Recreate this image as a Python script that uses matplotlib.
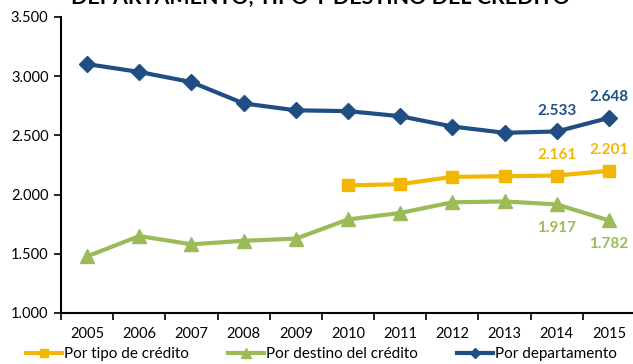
import numpy as np
import matplotlib.pyplot as plt

plt.rcParams["font.family"] = ["Lato", "DejaVu Sans"]

years = ["2005", "2006", "2007", "2008", "2009", "2010",
         "2011", "2012", "2013", "2014", "2015"]

# number of entities reporting, by grouping criterion
por_tipo = [np.nan, np.nan, np.nan, np.nan, np.nan, 2078, 2088, 2150, 2155, 2161, 2201]
por_destino = [1478, 1650, 1580, 1610, 1628, 1790, 1845, 1935, 1942, 1917, 1782]
por_depto = [3102, 3036, 2950, 2770, 2712, 2705, 2662, 2575, 2522, 2533, 2648]

c_tipo = "#F2B705"
c_destino = "#9BBB59"
c_depto = "#1F4E85"

fig = plt.figure(figsize=(6.33, 3.64), dpi=100)
ax = fig.add_axes([61 / 633, 51 / 364, 574 / 633, 296 / 364])

x = np.arange(len(years))
ax.plot(x, por_tipo, color=c_tipo, lw=3, marker="s", ms=9,
        label="Por tipo de crédito")
ax.plot(x, por_destino, color=c_destino, lw=3, marker="^", ms=10,
        label="Por destino del crédito")
ax.plot(x, por_depto, color=c_depto, lw=3, marker="D", ms=8,
        label="Por departamento")

def fmt(v):
    return f"{v:,.0f}".replace(",", ".")

# value labels on the last two years
for i in (9, 10):
    ax.annotate(fmt(por_depto[i]), (x[i], por_depto[i]), xytext=(0, 10),
                textcoords="offset points", ha="center", va="bottom",
                color=c_depto, fontsize=11, fontweight="bold")
    ax.annotate(fmt(por_tipo[i]), (x[i], por_tipo[i]), xytext=(0, 10),
                textcoords="offset points", ha="center", va="bottom",
                color=c_tipo, fontsize=11, fontweight="bold")
    ax.annotate(fmt(por_destino[i]), (x[i], por_destino[i]), xytext=(0, -12),
                textcoords="offset points", ha="center", va="top",
                color=c_destino, fontsize=11, fontweight="bold")

ax.set_xlim(-0.5, len(years) - 0.5)
ax.set_ylim(1000, 3500)
ax.set_yticks(np.arange(1000, 3501, 500))
ax.set_yticklabels([fmt(v) for v in np.arange(1000, 3501, 500)])
ax.set_xticks(x)
ax.set_xticklabels(years)
ax.set_xticks(np.arange(-0.5, len(years), 1), minor=True)
ax.tick_params(axis="x", which="major", length=0, pad=10, labelsize=10.5)
ax.tick_params(axis="x", which="minor", length=5, width=1.2, direction="out")
ax.tick_params(axis="y", length=5, width=1.2, labelsize=10.5, pad=4)

for side in ("top", "right"):
    ax.spines[side].set_visible(False)
ax.spines["left"].set_linewidth(1.5)
ax.spines["bottom"].set_linewidth(1.5)

fig.text(0.507, 1.0 - 4 / 364, "DEPARTAMENTO, TIPO Y DESTINO DEL CRÉDITO",
         ha="center", va="baseline", fontsize=15.4, fontweight="bold", color="black")

fig.legend(loc="center", bbox_to_anchor=(0.508, 10 / 364), ncol=3,
           frameon=False, fontsize=11, handlelength=2.3, handletextpad=0.15,
           columnspacing=2.6, markerscale=0.7)

fig.savefig("out.png", dpi=100)
